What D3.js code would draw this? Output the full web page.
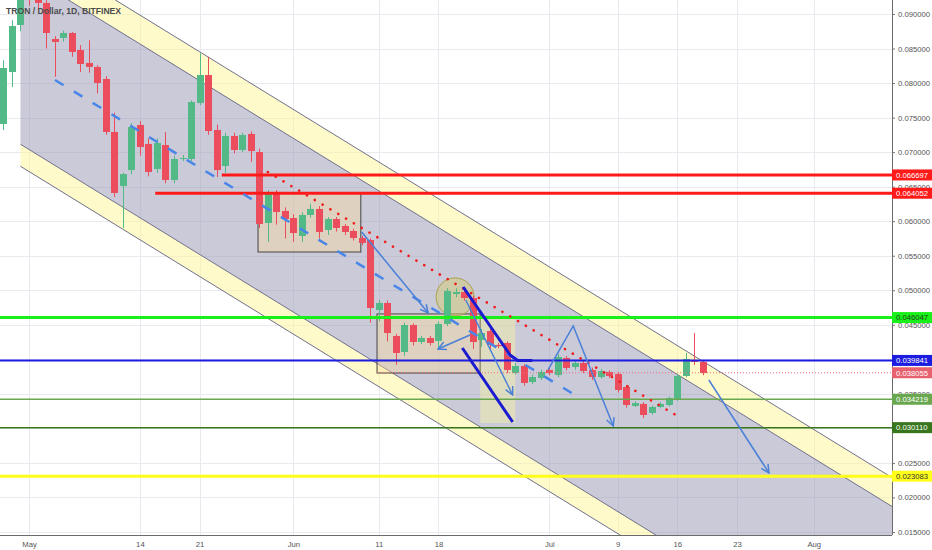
<!DOCTYPE html>
<html>
<head>
<meta charset="utf-8">
<script src="https://cdn.jsdelivr.net/npm/d3@7"></script>
<style>
  body { margin: 0; background: #fff; }
  svg { display: block; font-family: "Liberation Sans", Arial, sans-serif; }
</style>
</head>
<body>
<svg id="chart" width="932" height="550"></svg>
<script>
// ---- data (TRX/USD daily, Bitfinex) ----
const firstDay = "2018-04-28";
const opens = [0.07407,0.08160,0.08841,0.0955,0.0930,0.0916,0.08638,0.08653,0.08725,0.08479,
  0.08291,0.08233,0.08059,0.07292,0.06510,0.06741,0.07393,0.07118,0.06756,0.07103,
  0.06597,0.06901,0.06901,0.07711,0.08117,0.07321,0.06799,0.07234,0.07031,0.07263,
  0.07002,0.05974,0.06408,0.06148,0.06046,0.05786,0.06090,0.06177,0.05873,0.06032,
  0.05931,0.05858,0.05757,0.05728,0.04714,0.04816,0.04338,0.04106,0.04497,0.04251,
  0.04309,0.04266,0.04512,0.04946,0.04975,0.04888,0.04280,0.04410,0.04208,0.04237,
  0.03802,0.03904,0.03672,0.03730,0.03846,0.03773,0.04020,0.03889,0.03947,0.03846,
  0.03744,0.03817,0.03788,0.03600,0.03325,0.03354,0.03223,0.03310,0.03339,0.03426,
  0.03759,0.03991,0.03962];
const highs = [0.0833,0.0891,0.0950,0.0962,0.0936,0.0920,0.0868,0.0876,0.0874,0.0855,
  0.0862,0.0826,0.0810,0.0757,0.0670,0.0742,0.0745,0.0720,0.0720,0.0729,
  0.0695,0.0696,0.0775,0.0843,0.0838,0.0740,0.0728,0.0728,0.0728,0.0730,
  0.0705,0.0645,0.0645,0.0620,0.0610,0.0613,0.0625,0.0622,0.0606,0.0606,
  0.0596,0.0589,0.0579,0.0575,0.0486,0.0485,0.0437,0.0453,0.0452,0.0434,
  0.0434,0.0455,0.0503,0.0503,0.0503,0.0492,0.0444,0.0445,0.0424,0.0426,
  0.0395,0.0393,0.0378,0.0385,0.0388,0.0408,0.0405,0.0398,0.0398,0.0388,
  0.0386,0.0384,0.0381,0.0363,0.0339,0.0338,0.0333,0.0338,0.0346,0.0379,
  0.0409,0.0438,0.0399];
const lows = [0.0732,0.0794,0.0875,0.0912,0.0905,0.0850,0.0809,0.0860,0.0838,0.0816,
  0.0815,0.0785,0.0725,0.0635,0.0590,0.0668,0.0695,0.0665,0.0670,0.0655,
  0.0655,0.0687,0.0687,0.0768,0.0725,0.0664,0.0670,0.0698,0.0700,0.0686,
  0.0590,0.0570,0.0595,0.0575,0.0570,0.0570,0.0605,0.0575,0.0580,0.0585,
  0.0580,0.0572,0.0565,0.0453,0.0455,0.0426,0.0392,0.0405,0.0420,0.0422,
  0.0420,0.0414,0.0448,0.0490,0.0485,0.0415,0.0418,0.0415,0.0416,0.0380,
  0.0378,0.0362,0.0364,0.0370,0.0377,0.0374,0.0384,0.0385,0.0380,0.0370,
  0.0372,0.0373,0.0352,0.0330,0.0331,0.0315,0.0320,0.0329,0.0332,0.0340,
  0.0374,0.0392,0.0377];
const closes = [0.08218,0.08826,0.0935,0.0930,0.0916,0.08725,0.08595,0.08725,0.08450,0.08276,
  0.08233,0.08001,0.07292,0.06408,0.06683,0.07364,0.07074,0.06712,0.07132,0.06597,
  0.06901,0.06915,0.07726,0.08117,0.07306,0.06741,0.07234,0.07031,0.07248,0.07016,
  0.05960,0.06408,0.06133,0.06032,0.05829,0.06090,0.06177,0.05844,0.06032,0.05902,
  0.05844,0.05757,0.05685,0.04743,0.04816,0.04381,0.04092,0.04497,0.04251,0.04309,
  0.04237,0.04512,0.04990,0.04975,0.04888,0.04251,0.04381,0.04208,0.04190,0.03846,
  0.03904,0.03658,0.03744,0.03817,0.03802,0.04034,0.03875,0.03947,0.03831,0.03744,
  0.03831,0.03759,0.03556,0.03339,0.03368,0.03194,0.03310,0.03354,0.03440,0.03759,
  0.04005,0.03962,0.03802];

const xTickDates = ["2018-05-01","2018-05-14","2018-05-21","2018-06-01","2018-06-11","2018-06-18",
  "2018-07-01","2018-07-09","2018-07-16","2018-07-23","2018-08-01"];
const yTickValues = [0.015,0.020,0.025,0.030,0.035,0.040,0.045,0.050,0.055,0.060,0.065,0.070,0.075,0.080,0.085,0.090];

// horizontal levels (start = day offset from May 1, null = whole width)
const levelPrices = [0.066697, 0.064052, 0.046047, 0.039841, 0.038055, 0.034219, 0.030110, 0.023083];
const levelStart  = [22.6, 14.8, null, null, 40.8, null, null, null];

// trend channel: day offsets from May 1 and prices at those days
const channelDays = [-1, 103];
const outerTop    = [0.10048, 0.02149];
const innerTop    = [0.09630, 0.01731];
const innerBottom = [0.07114, -0.00785];
const outerBottom = [0.06795, -0.01104];

// drawings as [day offset from May 1, price]
const midDashed   = [[3.05, 0.08044], [64.0, 0.03484]];
const redTrend    = [[28.0, 0.06712], [76.4, 0.03151]];
const thickBlueA  = [[50.9, 0.05047], [56.4, 0.04063], [57.3, 0.03984], [59.0, 0.03984]];
const thickBlueB  = [[50.8, 0.04164], [56.7, 0.03093]];
const arrows = [
  [[39.0, 0.05844], [46.8, 0.04671]],
  [[60.85, 0.03846], [63.8, 0.04483], [68.5, 0.03035]],
  [[79.7, 0.03701], [86.75, 0.02355]],
  [[51.2, 0.04859], [56.7, 0.03484]],
  [[51.7, 0.04353], [47.95, 0.04150]]
];
const boxes = [
  { from: 26.85, to: 38.9, top: 0.06408, bottom: 0.05554 },
  { from: 40.8, to: 52.9, top: 0.04657, bottom: 0.03802 }
];
const paleBox = { from: 52.9, to: 57.0, top: 0.04613, bottom: 0.03078 };
const circleCenter = [49.95, 0.04903];

// ---- styles ----
const levelStyle = [
  { stroke: "#ff1a1a", width: 3, bg: "#ff1a1a", fg: "#fff" },
  { stroke: "#ff1a1a", width: 3, bg: "#ff1a1a", fg: "#fff" },
  { stroke: "#19f019", width: 3, bg: "#19f019", fg: "#1f3d1f" },
  { stroke: "#1c1ce0", width: 2, bg: "#1c1ce0", fg: "#fff" },
  { stroke: "#f26d7a", width: 1, bg: "#e8616f", fg: "#fff", dash: "1,2" },
  { stroke: "#6aa84f", width: 1.5, bg: "#6aa84f", fg: "#fff" },
  { stroke: "#38761d", width: 1.5, bg: "#38761d", fg: "#fff" },
  { stroke: "#ffff1a", width: 3, bg: "#ffff1a", fg: "#333" }
];
const upColor = "#53b987", downColor = "#eb4d5c";
const arrowColor = "#4a80d8";

const plotR = 892, plotB = 535;
const base = new Date(2018, 4, 1);
const day = n => d3.timeMinute.offset(base, Math.round(n * 1440));
const parse = d3.timeParse("%Y-%m-%d");

const x = d3.scaleTime().domain([base, new Date(2018, 7, 1)]).range([29, 29 + 92 * 8.53]);
const y = d3.scaleLinear().domain([0.015, 0.090]).range([532, 14]);

const svg = d3.select("#chart");
svg.append("rect").attr("width", 932).attr("height", 550).attr("fill", "#fff");

const defs = svg.append("defs");
defs.append("clipPath").attr("id", "clip")
  .append("rect").attr("width", plotR).attr("height", plotB);
defs.append("marker").attr("id", "head")
  .attr("viewBox", "0 0 10 10").attr("refX", 9).attr("refY", 5)
  .attr("markerWidth", 10).attr("markerHeight", 10)
  .attr("markerUnits", "userSpaceOnUse").attr("orient", "auto")
  .append("path").attr("d", "M1,1 L9,5 L1,9")
  .attr("fill", "none").attr("stroke", arrowColor).attr("stroke-width", 1.5);

const plot = svg.append("g").attr("clip-path", "url(#clip)");

// grid
plot.append("g").selectAll("line").data(xTickDates.map(parse)).join("line")
  .attr("x1", d => Math.round(x(d)) + 0.5).attr("x2", d => Math.round(x(d)) + 0.5)
  .attr("y1", 0).attr("y2", plotB).attr("stroke", "#e8eaf0");
plot.append("g").selectAll("line").data(yTickValues).join("line")
  .attr("y1", d => Math.round(y(d)) + 0.5).attr("y2", d => Math.round(y(d)) + 0.5)
  .attr("x1", 0).attr("x2", plotR).attr("stroke", "#e8eaf0");

// channel
const toPts = prices => channelDays.map((d, i) => [x(day(d)), y(prices[i])]);
const band = (a, b) => {
  const p = toPts(a).concat(toPts(b).reverse());
  return "M" + p.map(q => q.join(",")).join("L") + "Z";
};
plot.append("path").attr("d", band(outerTop, innerTop)).attr("fill", "#fff596").attr("fill-opacity", 0.5);
plot.append("path").attr("d", band(innerTop, innerBottom)).attr("fill", "#9696b4").attr("fill-opacity", 0.5);
plot.append("path").attr("d", band(innerBottom, outerBottom)).attr("fill", "#fff596").attr("fill-opacity", 0.5);
[outerTop, innerTop, innerBottom, outerBottom].forEach(line => {
  plot.append("path").attr("d", d3.line()(toPts(line)))
    .attr("stroke", "#70708e").attr("stroke-width", 1).attr("fill", "none");
});

// rectangles and circle
plot.append("g").selectAll("rect").data(boxes).join("rect")
  .attr("x", d => x(day(d.from))).attr("width", d => x(day(d.to)) - x(day(d.from)))
  .attr("y", d => y(d.top)).attr("height", d => y(d.bottom) - y(d.top))
  .attr("fill", "#ffdc96").attr("fill-opacity", 0.38)
  .attr("stroke", "#444").attr("stroke-width", 1);
plot.append("rect")
  .attr("x", x(day(paleBox.from))).attr("width", x(day(paleBox.to)) - x(day(paleBox.from)))
  .attr("y", y(paleBox.top)).attr("height", y(paleBox.bottom) - y(paleBox.top))
  .attr("fill", "#fffa9a").attr("fill-opacity", 0.4);
plot.append("circle")
  .attr("cx", x(day(circleCenter[0]))).attr("cy", y(circleCenter[1])).attr("r", 19)
  .attr("fill", "#d8cc6a").attr("fill-opacity", 0.45)
  .attr("stroke", "#aaa24c").attr("stroke-width", 1);

// candles
const dates = opens.map((_, i) => d3.timeDay.offset(parse(firstDay), i));
const candles = dates.map((d, i) => ({ date: d, o: opens[i], h: highs[i], l: lows[i], c: closes[i] }));
const cg = plot.append("g");
cg.selectAll("line").data(candles).join("line")
  .attr("x1", d => Math.round(x(d.date)) + 0.5).attr("x2", d => Math.round(x(d.date)) + 0.5)
  .attr("y1", d => y(d.h)).attr("y2", d => y(d.l))
  .attr("stroke", d => d.c >= d.o ? upColor : downColor).attr("stroke-width", 1);
cg.selectAll("rect").data(candles).join("rect")
  .attr("x", d => Math.round(x(d.date)) - 3).attr("width", 7)
  .attr("y", d => y(Math.max(d.o, d.c)))
  .attr("height", d => Math.max(1, Math.abs(y(d.o) - y(d.c))))
  .attr("fill", d => d.c >= d.o ? upColor : downColor);

// horizontal levels
const lvl = levelPrices.map((p, i) => ({ p, start: levelStart[i], s: levelStyle[i] }));
plot.append("g").selectAll("line").data(lvl).join("line")
  .attr("x1", d => d.start === null ? 0 : x(day(d.start))).attr("x2", plotR)
  .attr("y1", d => y(d.p)).attr("y2", d => y(d.p))
  .attr("stroke", d => d.s.stroke).attr("stroke-width", d => d.s.width)
  .attr("stroke-dasharray", d => d.s.dash || null);

// drawings
const lineGen = d3.line().x(d => x(day(d[0]))).y(d => y(d[1]));
plot.append("path").attr("d", lineGen(midDashed)).attr("fill", "none")
  .attr("stroke", "#4a86e8").attr("stroke-width", 2.5).attr("stroke-dasharray", "10,12");
plot.append("path").attr("d", lineGen(redTrend)).attr("fill", "none")
  .attr("stroke", "#f01c1c").attr("stroke-width", 2.6).attr("stroke-linecap", "round")
  .attr("stroke-dasharray", "0.1,9");
[thickBlueA, thickBlueB].forEach(pts => {
  plot.append("path").attr("d", lineGen(pts)).attr("fill", "none")
    .attr("stroke", "#1a1ad0").attr("stroke-width", 3).attr("stroke-linejoin", "round");
});
plot.append("g").selectAll("path").data(arrows).join("path")
  .attr("d", d => lineGen(d)).attr("fill", "none")
  .attr("stroke", arrowColor).attr("stroke-width", 1.5)
  .attr("marker-end", "url(#head)");

// axes
svg.append("line").attr("x1", plotR + 0.5).attr("x2", plotR + 0.5).attr("y1", 0).attr("y2", plotB)
  .attr("stroke", "#6b6b6b");
svg.append("line").attr("x1", 0).attr("x2", plotR).attr("y1", plotB + 0.5).attr("y2", plotB + 0.5)
  .attr("stroke", "#6b6b6b");

// tick labels hidden almost entirely behind a price label are left out, as in the picture
const hiddenTick = v => levelPrices.some(p => Math.abs(y(p) - y(v)) < 5);
const yAxis = svg.append("g").attr("transform", `translate(${plotR},0)`)
  .call(d3.axisRight(y).tickValues(yTickValues).tickSize(3).tickPadding(3)
    .tickFormat(v => hiddenTick(v) ? "" : d3.format(".6f")(v)));
yAxis.select(".domain").remove();
yAxis.selectAll("line").attr("stroke", "#777");
yAxis.selectAll("text").attr("fill", "#555").style("font-size", "7.7px");

const xAxis = svg.append("g").attr("transform", `translate(0,${plotB})`)
  .call(d3.axisBottom(x).tickValues(xTickDates.map(parse)).tickSize(0).tickPadding(7)
    .tickFormat(d => d.getDate() === 1 ? d3.timeFormat("%b")(d) : String(d.getDate())));
xAxis.select(".domain").remove();
xAxis.selectAll("text").attr("fill", "#555").style("font-size", "7.7px");

// price labels
const lab = svg.append("g").selectAll("g").data(lvl).join("g")
  .attr("transform", d => `translate(${plotR},${y(d.p)})`);
lab.append("rect").attr("x", 0).attr("y", -5.5).attr("width", 40).attr("height", 11)
  .attr("fill", d => d.s.bg);
lab.append("text").attr("x", 4).attr("y", 2.8).text(d => d3.format(".6f")(d.p))
  .attr("fill", d => d.s.fg).style("font-size", "7.7px");

// title
svg.append("text").attr("x", 6).attr("y", 14).text("TRON / Dollar, 1D, BITFINEX")
  .attr("fill", "#4a4a4a").style("font-size", "8.6px").style("font-weight", "bold");
</script>
</body>
</html>
